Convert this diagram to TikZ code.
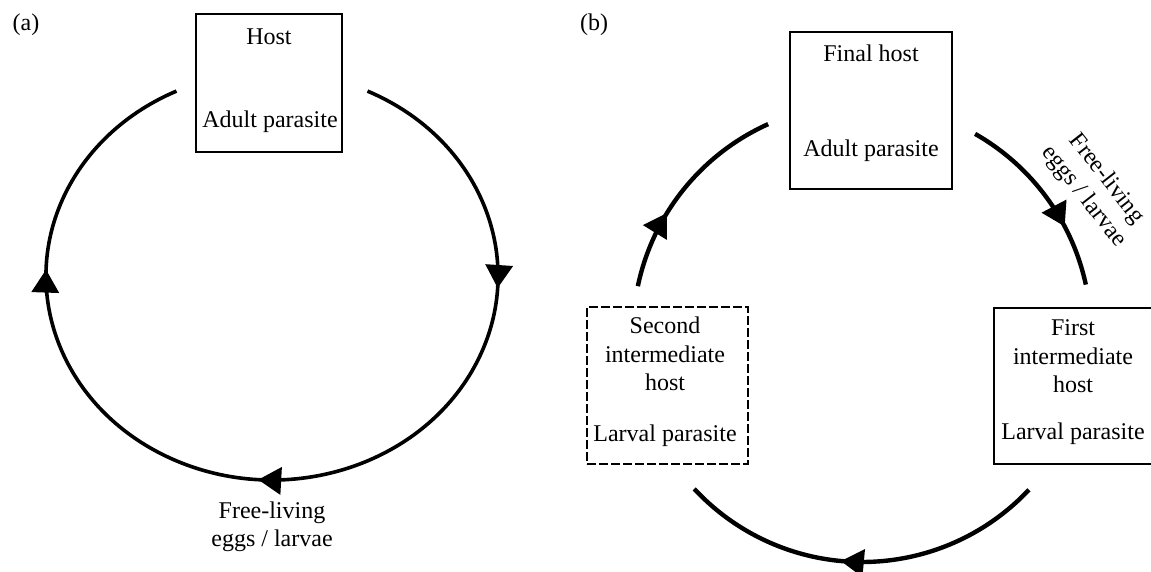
\documentclass[tikz,border=0pt]{standalone}
\usepackage{fontspec}
\setmainfont{Liberation Serif}
\usetikzlibrary{arrows.meta,decorations.markings,calc}
\tikzset{bigtri/.tip={Triangle[length=23pt,width=27pt]}}
\begin{document}
\begin{tikzpicture}[x=1pt,y=1pt,
  txt/.style={font=\fontsize{24}{28.5}\selectfont, inner sep=0pt, anchor=base},
  solidbox/.style={draw, line width=2pt, inner sep=0pt},
  dashbox/.style={draw, line width=2pt, inner sep=0pt, dash pattern=on 9pt off 3pt},
  cyca/.style={line width=3.6pt, line cap=butt},
  cycb/.style={line width=4.4pt, line cap=butt}]
\useasboundingbox (0,0) rectangle (1151,-572);
\clip (0,0) rectangle (1151,-572);

% ---------------- (a) ----------------
\node[txt] (la) at (26,-31) {(a)};
\node[solidbox, minimum width=146pt, minimum height=138pt] (hostbox) at (269,-83) {};
\node[txt] (hostt) at (269,-45) {Host};
\node[txt] (adulta) at (270,-128) {Adult parasite};

\coordinate (ca) at (272,-276);
\coordinate (aS) at ($(ca)+(65:226pt and 204pt)$);
\draw[cyca, postaction={decorate}, decoration={markings,
    mark=at position 0.218 with {\arrow{bigtri}},
    mark=at position 0.512 with {\arrow{bigtri}},
    mark=at position 0.798 with {\arrow{bigtri}}}]
  (aS) arc[start angle=65, end angle=-245, x radius=226pt, y radius=204pt];

\node[txt] (fla) at (272,-518) {Free-living};
\node[txt] (ela) at (272,-546) {eggs / larvae};

% ---------------- (b) ----------------
\node[txt] (lb) at (594,-31) {(b)};
\node[solidbox, minimum width=162pt, minimum height=157pt] (finalbox) at (871,-110.5) {};
\node[txt] (finalt) at (871,-62) {Final host};
\node[txt] (adultb) at (871,-157) {Adult parasite};

\node[dashbox, minimum width=161pt, minimum height=157pt] (secbox) at (667.5,-385.5) {};
\node[txt] (sec1) at (665,-333) {Second};
\node[txt] (sec2) at (665,-362) {intermediate};
\node[txt] (sec3) at (665,-390) {host};
\node[txt] (sec4) at (665,-441) {Larval parasite};

\node[solidbox, minimum width=160pt, minimum height=156pt] (firstbox) at (1074,-386) {};
\node[txt] (fir1) at (1073,-335) {First};
\node[txt] (fir2) at (1073,-364) {intermediate};
\node[txt] (fir3) at (1073,-392) {host};
\node[txt] (fir4) at (1073,-439) {Larval parasite};

\coordinate (cb) at (862,-333);
\coordinate (rS) at ($(cb)+(60.4:229pt)$);
\coordinate (bS) at ($(cb)+(-43.2:229pt)$);
\coordinate (lS) at ($(cb)+(168.2:229pt)$);

\draw[cycb, postaction={decorate}, decoration={markings,
    mark=at position 0.678 with {\arrow{bigtri}}}]
  (rS) arc[start angle=60.4, end angle=12.2, radius=229pt];
\draw[cycb, postaction={decorate}, decoration={markings,
    mark=at position 0.555 with {\arrow{bigtri}}}]
  (bS) arc[start angle=-43.2, end angle=-137.1, radius=229pt];
\draw[cycb, postaction={decorate}, decoration={markings,
    mark=at position 0.367 with {\arrow{bigtri}}}]
  (lS) arc[start angle=168.2, end angle=114.2, radius=229pt];

\node[font=\fontsize{24}{28.5}\selectfont, inner sep=0pt, align=center, rotate=-52] (flb) at (1095,-188) {Free-living\\eggs / larvae};
\end{tikzpicture}
\end{document}
